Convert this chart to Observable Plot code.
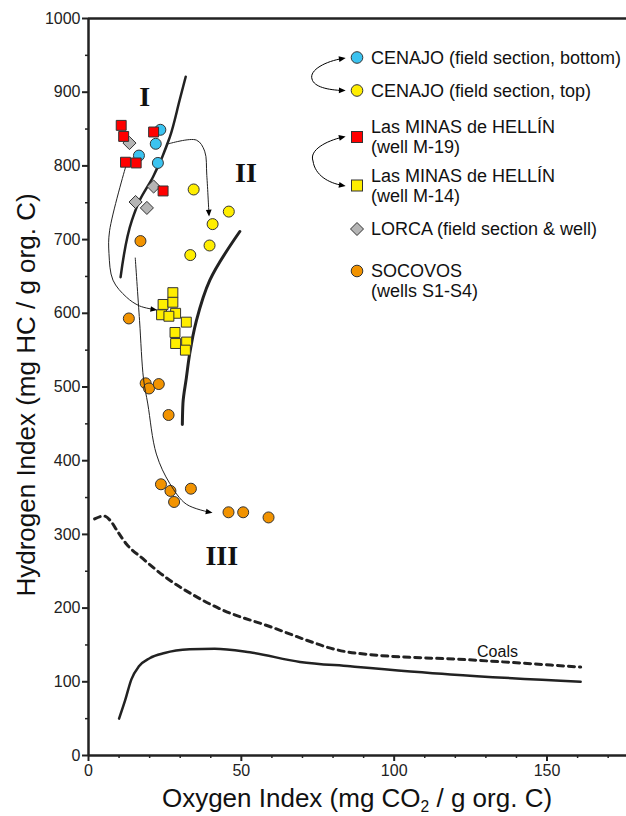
<!DOCTYPE html>
<html><head><meta charset="utf-8">
<script src="https://cdn.jsdelivr.net/npm/d3@7"></script>
<script src="https://cdn.jsdelivr.net/npm/@observablehq/plot@0.6"></script>
<style>
body{margin:0;background:#fff;font-family:"Liberation Sans",Arial,sans-serif;color:#111;}
#wrap{position:relative;width:626px;height:816px;overflow:hidden;}
#wrap svg{display:block;}
.lab{position:absolute;white-space:nowrap;font-size:26px;color:#111;line-height:1;}
.xlab{left:357px;top:798px;transform:translate(-50%,-50%);}
.ylab{left:26px;top:395px;transform:translate(-50%,-50%) rotate(-90deg);}
.lab sub{font-size:0.6em;vertical-align:baseline;position:relative;top:0.3em;line-height:0;}
#legend{position:absolute;left:0;top:0;}
</style></head><body>
<div id="wrap"></div>
<script>
// ---- data (Oxygen Index, Hydrogen Index) ----
const cenajoBottom = [[23.5,849],[22.0,830],[16.5,814],[22.7,804]];
const cenajoTop = [[34.4,768],[45.9,738],[40.6,721],[39.6,692],[33.3,679]];
const minasM19 = [[10.7,855],[11.5,840],[21.3,846],[12.1,805],[15.6,804],[24.4,766]];
const minasM14 = [[27.6,628],[24.4,612],[27.6,615],[28.5,600],[23.9,598],[26.3,596],[32.0,588],[28.3,574],[28.5,559],[32.1,561],[31.7,550]];
const lorca = [[13.4,831],[21.3,772],[15.4,751],[19.1,743]];
const socovos = [[17.0,698],[13.2,593],[18.7,505],[19.8,498],[23.0,504],[26.2,462],[23.7,368],[26.8,359],[28.0,344],[33.5,362],[45.8,330],[50.6,330],[58.9,323]];

// kerogen type evolution curves
const curveI = [[10.5,649],[14.2,726],[16.7,753],[21.1,785],[26.6,839],[29.8,889],[31.8,921]];
const curveII = [[30.7,449],[30.9,478],[32.0,512],[33.1,545],[35.3,590],[39.7,645],[49.5,711]];
const curveCoals = [[2,321],[5,325],[7.3,318],[9.5,304],[12.4,287],[17.8,267],[25.5,241],[34.2,218],[43,199],[60,174],[73,154],[78,147],[84,141],[92,137],[123.8,130],[161,120]];
const curveIV = [[10,50],[12,75],[14,103],[16.5,121],[20,132],[24.9,139],[33.1,144],[41.3,145],[52.8,140],[69.2,127],[85.6,121],[118.4,110],[161,100]];

// trend arrows
const arrowA = [[26.2,830],[35.3,835],[38,820],[38.7,787],[39.4,735]];
const arrowB = [[12.1,798],[6.9,712],[6.7,681],[8.0,645],[12.4,622],[16.7,610],[21.6,605]];
const arrowC = [[15.3,675],[16.7,590],[18.0,511],[19.4,477],[22.2,409],[26.6,369],[32.0,341],[39.7,330]];

const typeLabels = [
  {x:18.4, y:894, t:"I"},
  {x:51.5, y:790, t:"II"},
  {x:43.6, y:270, t:"III"}
];
const coalLabel = [{x:133.8, y:141, t:"Coals"}];

const xTicks = [0,50,100,150];
const yTicks = [0,100,200,300,400,500,600,700,800,900,1000];

const legendItems = [
  {lines:["CENAJO (field section, bottom)"], symbol:"circle", fill:"#3bc3f0"},
  {lines:["CENAJO (field section, top)"], symbol:"circle", fill:"#ffee00"},
  {lines:["Las MINAS de HELLÍN","(well M-19)"], symbol:"square", fill:"#ff0000"},
  {lines:["Las MINAS de HELLÍN","(well M-14)"], symbol:"square", fill:"#ffee00"},
  {lines:["LORCA (field section & well)"], symbol:"diamond", fill:"#b5b5b5"},
  {lines:["SOCOVOS","(wells S1-S4)"], symbol:"circle", fill:"#f29300"}
];

const BLUE="#3bc3f0", YEL="#ffee00", RED="#ff0000", GRAY="#b5b5b5", ORA="#f29300", STK="#333";
const X = d => d[0], Y = d => d[1];

const chart = Plot.plot({
  width: 626, height: 816,
  marginLeft: 88, marginRight: 0, marginTop: 18, marginBottom: 61,
  x: {domain: [0, 176]},
  y: {domain: [0, 1000]},
  style: {fontFamily: '"Liberation Sans", Arial, sans-serif', fontSize: "16px", color: "#222", background: "#fff"},
  marks: [
    Plot.axisY({ticks: yTicks, tickFormat: d => String(d), tickSize: 6, tickPadding: 2, strokeWidth: 2, label: null, fill: "#222"}),
    Plot.axisY({ticks: d3.range(50, 1000, 100), tickSize: 3, text: null, label: null, strokeWidth: 1.5}),
    Plot.axisX({ticks: xTicks, tickFormat: d => String(d), tickSize: 6, tickPadding: 3, strokeWidth: 2, label: null, fill: "#222"}),
    Plot.axisX({ticks: d3.range(10, 176, 10).filter(v => v % 50), tickSize: 3, text: null, label: null, strokeWidth: 1.5}),
    Plot.ruleX([0], {strokeWidth: 2.5}),
    Plot.ruleY([0], {strokeWidth: 2.5}),
    Plot.ruleY([1000], {strokeWidth: 2.5}),
    // curves
    Plot.line(curveIV, {x: X, y: Y, curve: "monotone-x", strokeWidth: 2.5}),
    Plot.line(curveCoals, {x: X, y: Y, curve: "monotone-x", strokeWidth: 3, strokeDasharray: "6,5"}),
    Plot.line(curveI, {x: X, y: Y, curve: "monotone-y", strokeWidth: 2.5}),
    Plot.line(curveII, {x: X, y: Y, curve: "monotone-y", strokeWidth: 3}),
    // points
    Plot.dot(lorca, {x: X, y: Y, symbol: "diamond2", r: 5.9, fill: GRAY, stroke: STK, strokeWidth: 1}),
    Plot.dot(cenajoBottom, {x: X, y: Y, r: 5.5, fill: BLUE, stroke: STK, strokeWidth: 1}),
    Plot.dot(minasM19, {x: X, y: Y, symbol: "square", r: 5.6, fill: RED, stroke: STK, strokeWidth: 1}),
    Plot.dot(cenajoTop, {x: X, y: Y, r: 5.5, fill: YEL, stroke: STK, strokeWidth: 1}),
    Plot.dot(minasM14, {x: X, y: Y, symbol: "square", r: 5.6, fill: YEL, stroke: STK, strokeWidth: 1}),
    Plot.dot(socovos, {x: X, y: Y, r: 5.5, fill: ORA, stroke: STK, strokeWidth: 1}),
    // arrows
    Plot.line(arrowA, {x: X, y: Y, curve: "catmull-rom", strokeWidth: 1, markerEnd: "arrow"}),
    Plot.line(arrowB, {x: X, y: Y, curve: "catmull-rom", strokeWidth: 1, markerEnd: "arrow"}),
    Plot.line(arrowC, {x: X, y: Y, curve: "catmull-rom", strokeWidth: 1, markerEnd: "arrow"}),
    // labels
    Plot.text(typeLabels, {x: "x", y: "y", text: "t", fontFamily: '"Liberation Serif", "Times New Roman", serif', fontWeight: "bold", fontSize: 28, fill: "#111"}),
    Plot.text(coalLabel, {x: "x", y: "y", text: "t", fontSize: 16, fill: "#111"})
  ]
});

// filled arrowheads
chart.querySelectorAll("marker").forEach(m => {
  m.setAttribute("markerWidth", 9);
  m.setAttribute("markerHeight", 9);
  m.setAttribute("fill", "#000");
  m.setAttribute("stroke", "none");
  const p = m.querySelector("path");
  if (p) p.setAttribute("d", "M-4.5,-3.2L3,0L-4.5,3.2Z");
});

const wrap = document.getElementById("wrap");
wrap.appendChild(chart);

// axis titles
const xl = document.createElement("div");
xl.className = "lab xlab";
xl.innerHTML = "Oxygen Index (mg CO<sub>2</sub> / g org. C)";
wrap.appendChild(xl);
const yl = document.createElement("div");
yl.className = "lab ylab";
yl.textContent = "Hydrogen Index (mg HC / g org. C)";
wrap.appendChild(yl);

// legend (inside plot area)
const lg = d3.select(wrap).append("svg").attr("id", "legend").attr("width", 626).attr("height", 320);
lg.append("defs").append("marker").attr("id", "lgArrow").attr("viewBox", "-5 -5 10 10")
  .attr("markerWidth", 9).attr("markerHeight", 9).attr("orient", "auto")
  .append("path").attr("d", "M-4.5,-3.2L3,0L-4.5,3.2Z").attr("fill", "#000");
const symY = [57.5, 90.5, 137, 185.5, 229, 271];
const lineY = [[57.5], [90.5], [127, 146.5], [176, 195.5], [229], [271, 290.5]];
legendItems.forEach((it, i) => {
  const cx = 357, cy = symY[i];
  if (it.symbol === "circle") lg.append("circle").attr("cx", cx).attr("cy", cy).attr("r", 5.8).attr("fill", it.fill).attr("stroke", STK);
  else if (it.symbol === "square") lg.append("rect").attr("x", cx - 5.5).attr("y", cy - 5.5).attr("width", 11).attr("height", 11).attr("fill", it.fill).attr("stroke", STK);
  else lg.append("path").attr("d", `M${cx},${cy-6.5}L${cx+6.5},${cy}L${cx},${cy+6.5}L${cx-6.5},${cy}Z`).attr("fill", it.fill).attr("stroke", STK);
  it.lines.forEach((t, j) => {
    lg.append("text").attr("x", 371).attr("y", lineY[i][j]).attr("dy", "0.36em")
      .attr("font-family", '"Liberation Sans", Arial, sans-serif').attr("font-size", 18).attr("fill", "#111").text(t);
  });
});
const lgArrows = [
  "M312,79 C309,70 326,61 343,58.5",
  "M312,79 C314,87 328,90 343,90.5",
  "M313,161 C309,150 326,141 343,137",
  "M313,161 C315,175 328,183 343,185.5"
];
lgArrows.forEach(d => lg.append("path").attr("d", d).attr("fill", "none").attr("stroke", "#000").attr("stroke-width", 1).attr("marker-end", "url(#lgArrow)"));
</script>
</body></html>
